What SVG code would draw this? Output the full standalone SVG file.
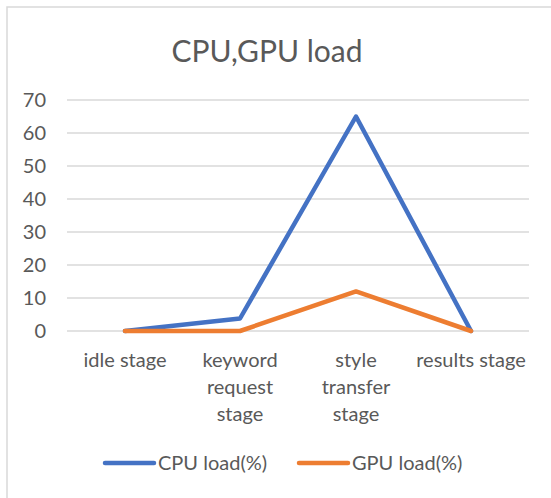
<svg xmlns="http://www.w3.org/2000/svg" width="551" height="498" viewBox="0 0 551 498">
  <style>
    text { font-family: Lato, "Open Sans", "Liberation Sans", sans-serif; fill: #595959; }
    .title { font-size: 30px; text-anchor: middle; }
    .tick { font-size: 20px; text-anchor: end; }
    .cat { font-size: 20px; text-anchor: middle; }
    .leg { font-size: 20px; }
    .grid { stroke: #d9d9d9; stroke-width: 1.5; }
    .series { fill: none; stroke-width: 4.5; stroke-linejoin: round; stroke-linecap: round; }
    .cpu { stroke: #4472c4; }
    .gpu { stroke: #ed7d31; }
  </style>

  <rect x="0" y="0" width="551" height="498" fill="#ffffff"/>
  <!-- chart area frame -->
  <rect x="7" y="7" width="560" height="510" fill="#ffffff" stroke="#d9d9d9" stroke-width="1.5"/>

  <text class="title" x="267" y="62">CPU,GPU load</text>

  <!-- gridlines, 10 units = 33 px, zero at y=331 -->
  <g id="grid">
    <line class="grid" x1="67" y1="100" x2="529" y2="100"/>
    <line class="grid" x1="67" y1="133" x2="529" y2="133"/>
    <line class="grid" x1="67" y1="166" x2="529" y2="166"/>
    <line class="grid" x1="67" y1="199" x2="529" y2="199"/>
    <line class="grid" x1="67" y1="232" x2="529" y2="232"/>
    <line class="grid" x1="67" y1="265" x2="529" y2="265"/>
    <line class="grid" x1="67" y1="298" x2="529" y2="298"/>
    <line class="grid" x1="67" y1="331" x2="529" y2="331"/>
  </g>

  <g id="y-axis">
    <text class="tick" x="46" y="107">70</text>
    <text class="tick" x="46" y="140">60</text>
    <text class="tick" x="46" y="173">50</text>
    <text class="tick" x="46" y="206">40</text>
    <text class="tick" x="46" y="239">30</text>
    <text class="tick" x="46" y="272">20</text>
    <text class="tick" x="46" y="305">10</text>
    <text class="tick" x="46" y="338">0</text>
  </g>

  <g id="x-axis">
    <text class="cat" x="125" y="367">idle stage</text>
    <text class="cat" x="240" y="367">keyword</text>
    <text class="cat" x="240" y="394">request</text>
    <text class="cat" x="240" y="421">stage</text>
    <text class="cat" x="356" y="367">style</text>
    <text class="cat" x="356" y="394">transfer</text>
    <text class="cat" x="356" y="421">stage</text>
    <text class="cat" x="471" y="367">results stage</text>
  </g>

  <g id="series">
    <polyline id="cpu-load" class="series cpu" points="125,331 240,318.5 356,116.5 471,331"/>
    <polyline id="gpu-load" class="series gpu" points="125,331 240,331 356,291.4 471,331"/>
  </g>

  <g id="legend">
    <line class="series cpu" x1="105" y1="463" x2="154" y2="463"/>
    <text class="leg" x="158" y="470">CPU load(%)</text>
    <line class="series gpu" x1="299" y1="463" x2="348" y2="463"/>
    <text class="leg" x="352" y="470">GPU load(%)</text>
  </g>
</svg>
